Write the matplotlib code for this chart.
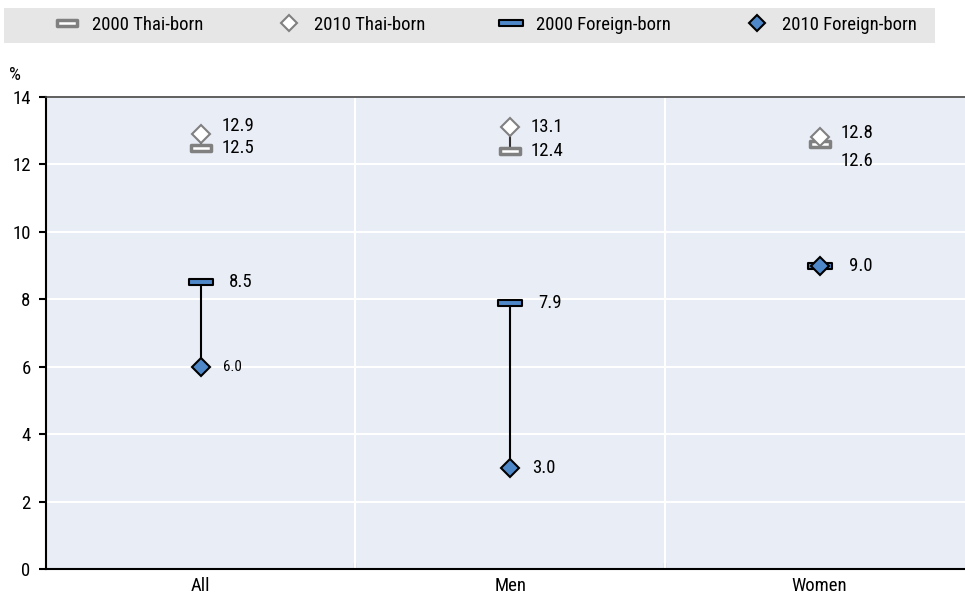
import matplotlib
matplotlib.use('Agg')
import matplotlib.pyplot as plt
from matplotlib.path import Path
from matplotlib.lines import Line2D
from matplotlib.patches import Rectangle
from matplotlib import font_manager

categories = ['All', 'Men', 'Women']
thai_2000 = [12.5, 12.4, 12.6]
thai_2010 = [12.9, 13.1, 12.8]
foreign_2000 = [8.5, 7.9, 9.0]
foreign_2010 = [6.0, 3.0, 9.0]
yticks = [0, 2, 4, 6, 8, 10, 12, 14]

# condensed font if there is one, else plain Liberation Sans a bit smaller
names = set(f.name for f in font_manager.fontManager.ttflist)
fs = 12
fam = 'Liberation Sans'
for cand in ['Liberation Sans Narrow', 'Roboto Condensed', 'Open Sans Condensed', 'Arial Narrow']:
    if cand in names:
        fam = cand
        fs = 13.5
        break
plt.rcParams['font.family'] = [fam, 'DejaVu Sans']
plt.rcParams['font.size'] = fs

blue = '#4f88c8'
gray = '#808080'
bg = '#e9edf6'

rect = Path([(-2, -0.55), (2, -0.55), (2, 0.55), (-2, 0.55), (-2, -0.55)],
            [Path.MOVETO, Path.LINETO, Path.LINETO, Path.LINETO, Path.CLOSEPOLY])

fig = plt.figure(figsize=(9.65, 5.94), dpi=100)
ax = fig.add_axes([46/965, 25/594, 919/965, 472/594])
ax.set_facecolor(bg)

x = list(range(len(categories)))

# connectors
for i in x:
    ax.plot([i, i], [thai_2000[i], thai_2010[i]], color='#333333', lw=1.5, zorder=3)
    ax.plot([i, i], [foreign_2000[i], foreign_2010[i]], color='black', lw=1.5, zorder=3)

ax.plot(x, thai_2000, ls='none', marker=rect, ms=14, mfc='white', mec=gray, mew=2.5, zorder=4)
ax.plot(x, thai_2010, ls='none', marker='D', ms=9, mfc='white', mec=gray, mew=1.5, zorder=5)
ax.plot(x, foreign_2000, ls='none', marker=rect, ms=17, mfc=blue, mec='black', mew=1.5, zorder=4)
ax.plot(x, foreign_2010, ls='none', marker='D', ms=9, mfc=blue, mec='black', mew=1.5, zorder=5)

# value labels (offsets in points)
thai10_dy = [6, 0, 3]
thai00_dy = [0, 0, -12]
for i in x:
    ax.annotate(f'{thai_2010[i]:.1f}', (i, thai_2010[i]), xytext=(15, thai10_dy[i]),
                textcoords='offset points', va='center', ha='left')
    ax.annotate(f'{thai_2000[i]:.1f}', (i, thai_2000[i]), xytext=(15, thai00_dy[i]),
                textcoords='offset points', va='center', ha='left')
    if foreign_2000[i] == foreign_2010[i]:
        ax.annotate(f'{foreign_2010[i]:.1f}', (i, foreign_2010[i]), xytext=(21, 0),
                    textcoords='offset points', va='center', ha='left')
        continue
    ax.annotate(f'{foreign_2000[i]:.1f}', (i, foreign_2000[i]), xytext=(20, 0),
                textcoords='offset points', va='center', ha='left')
    ax.annotate(f'{foreign_2010[i]:.1f}', (i, foreign_2010[i]), xytext=(16, 0),
                textcoords='offset points', va='center', ha='left',
                fontsize=fs * 0.8 if i == 0 else fs)

ax.set_xlim(-0.5, 2.47)
ax.set_ylim(0, 14)
ax.set_yticks(yticks)
ax.set_xticks(x)
ax.set_xticklabels(categories)
ax.set_xticks([0.5, 1.5], minor=True)
ax.tick_params(axis='x', which='major', length=0, pad=6)
ax.tick_params(axis='x', which='minor', length=4, width=1.5, direction='in', color='black')
ax.tick_params(axis='y', length=5, width=1.5, pad=6, color='black')

ax.grid(axis='y', color='white', lw=1.5)
for s in [0.5, 1.5]:
    ax.axvline(s, color='white', lw=1.5, zorder=1)
ax.set_axisbelow(True)

ax.spines['right'].set_visible(False)
ax.spines['left'].set_linewidth(1.5)
ax.spines['bottom'].set_linewidth(1.5)
ax.spines['top'].set_color('#444444')
ax.spines['top'].set_linewidth(1.2)

fig.text(15/965, 1 - 75/594, '%', ha='center', va='center')

# legend
fig.patches.append(Rectangle((4/965, 1 - 43/594), 931/965, 35/594, transform=fig.transFigure,
                             facecolor='#e6e6e6', edgecolor='none', zorder=0))
handles = [
    Line2D([], [], ls='none', marker=rect, ms=14, mfc='white', mec=gray, mew=2.5),
    Line2D([], [], ls='none', marker='D', ms=8, mfc='white', mec=gray, mew=1.5),
    Line2D([], [], ls='none', marker=rect, ms=17, mfc=blue, mec='black', mew=1.5),
    Line2D([], [], ls='none', marker='D', ms=8, mfc=blue, mec='black', mew=1.5),
]
labels = ['2000 Thai-born', '2010 Thai-born', '2000 Foreign-born', '2010 Foreign-born']
fig.legend(handles, labels, loc='center left', bbox_to_anchor=(53/965, 1 - 25/594), ncol=4,
           frameon=False, handlelength=1.5, handletextpad=0.6, columnspacing=3.8,
           borderpad=0, borderaxespad=0)

fig.savefig('out.png', dpi=100)
